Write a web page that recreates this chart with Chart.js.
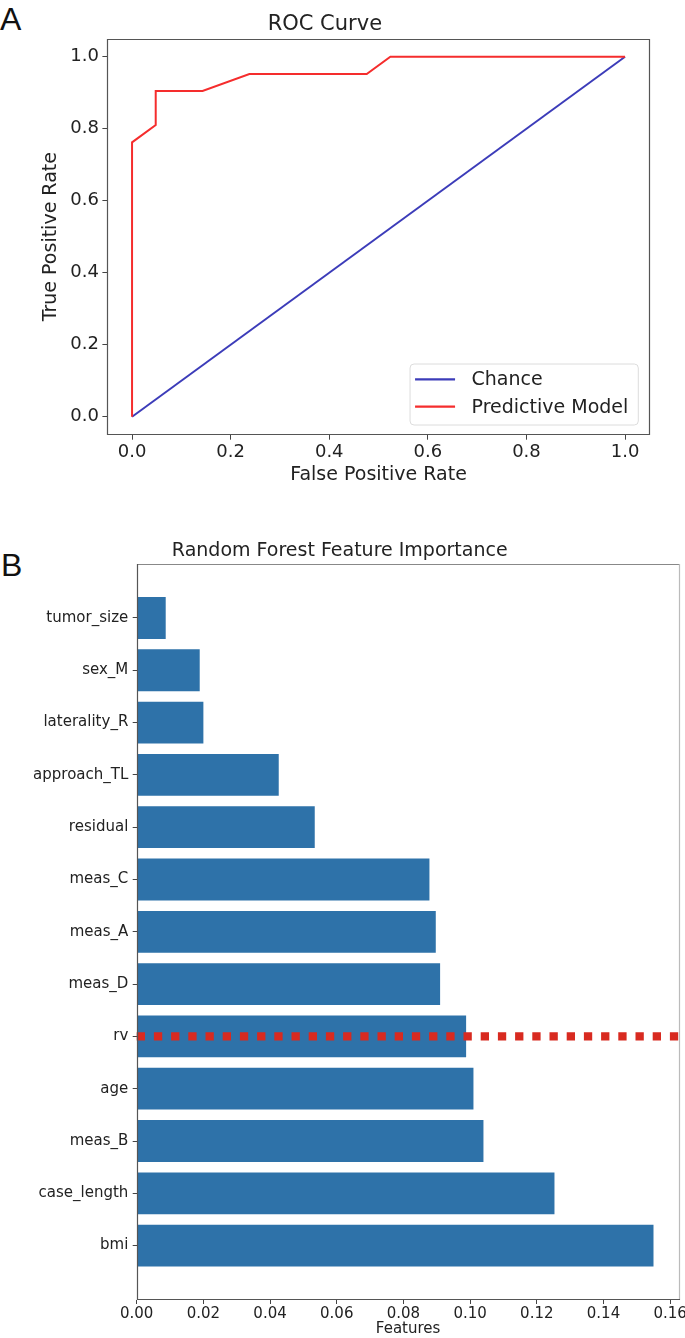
<!DOCTYPE html>
<html>
<head>
<meta charset="utf-8">
<script src="https://cdn.jsdelivr.net/npm/chart.js@4.4.1/dist/chart.umd.min.js"></script>
<style>
  html, body { margin: 0; padding: 0; background: #ffffff; overflow: hidden; width: 685px; height: 1338px; }
  .panel { position: absolute; font-family: "Liberation Sans", Arial, sans-serif; font-size: 32px; line-height: 1; color: #111; }
  #cA { position: absolute; left: 0; top: 0; }
  #cB { position: absolute; left: 0; top: 500px; }
</style>
</head>
<body>
<div class="panel" style="left:0px; top:3px;">A</div>
<div class="panel" style="left:1px; top:549px;">B</div>
<canvas id="cA" width="685" height="500"></canvas>
<canvas id="cB" width="685" height="838"></canvas>
<script>
// ---------------- data ----------------
const rocTicks = [0.0, 0.2, 0.4, 0.6, 0.8, 1.0];
const chanceFpr = [0.0, 1.0];
const chanceTpr = [0.0, 1.0];
const modelFpr = [0.0, 0.0, 0.048, 0.048, 0.143, 0.238, 0.476, 0.524, 1.0];
const modelTpr = [0.0, 0.762, 0.810, 0.905, 0.905, 0.952, 0.952, 1.0, 1.0];

const features = ['tumor_size', 'sex_M', 'laterality_R', 'approach_TL', 'residual', 'meas_C',
                  'meas_A', 'meas_D', 'rv', 'age', 'meas_B', 'case_length', 'bmi'];
const importances = [0.0087, 0.0189, 0.0200, 0.0426, 0.0534, 0.0878,
                     0.0897, 0.0910, 0.0988, 0.1010, 0.1040, 0.1253, 0.1550];
const importanceTicks = [0.00, 0.02, 0.04, 0.06, 0.08, 0.10, 0.12, 0.14, 0.16];
const cutoffFeature = 'rv';

// ---------------- helpers ----------------
const FONT = '"DejaVu Sans", Verdana, sans-serif';
const TXT = '#222222';

const framePlugin = {
  id: 'frame',
  afterDraw(chart, args, opts) {
    const {ctx, chartArea: a} = chart;
    const L = Math.round(a.left) + 0.5, R = Math.round(a.right) - 0.5;
    const T = Math.round(a.top) + 0.5, B = Math.round(a.bottom) - 0.5;
    const c = opts.colors;
    ctx.save();
    ctx.lineWidth = opts.width || 1;
    const seg = (x1, y1, x2, y2, col) => { ctx.strokeStyle = col; ctx.beginPath(); ctx.moveTo(x1, y1); ctx.lineTo(x2, y2); ctx.stroke(); };
    seg(L - 0.5, T, R + 0.5, T, c.top);
    seg(R, T - 0.5, R, B + 0.5, c.right);
    seg(L - 0.5, B, R + 0.5, B, c.bottom);
    seg(L, T - 0.5, L, B + 0.5, c.left);
    ctx.restore();
  }
};

const rocLegendPlugin = {
  id: 'rocLegend',
  afterDraw(chart, args, opts) {
    if (!opts || !opts.display) return;
    const {ctx, chartArea: a} = chart;
    const items = chart.data.datasets;
    ctx.save();
    ctx.font = '19px ' + FONT;
    const textW = Math.max(...items.map(d => ctx.measureText(d.label).width));
    const padL = 5, lineLen = 40, gap = 16.5, padR = 10, rowH = 27.4, padT = 15.3;
    const w = padL + lineLen + gap + textW + padR;
    const h = 61;
    const x0 = a.right - 11.4 - w, y0 = a.bottom - 9.7 - h;
    ctx.beginPath();
    ctx.roundRect(x0, y0, w, h, 4);
    ctx.fillStyle = 'rgba(255,255,255,0.85)';
    ctx.fill();
    ctx.strokeStyle = '#dcdcdc';
    ctx.lineWidth = 1;
    ctx.stroke();
    items.forEach((d, i) => {
      const y = y0 + padT + i * rowH;
      ctx.strokeStyle = d.borderColor;
      ctx.lineWidth = 2.2;
      ctx.beginPath();
      ctx.moveTo(x0 + padL, y);
      ctx.lineTo(x0 + padL + lineLen, y);
      ctx.stroke();
      ctx.fillStyle = TXT;
      ctx.textBaseline = 'middle';
      ctx.textAlign = 'left';
      ctx.fillText(d.label, x0 + padL + lineLen + gap, y + 1);
    });
    ctx.restore();
  }
};

const zeroPad = s => { s.paddingLeft = 0; s.paddingRight = 0; s.paddingTop = 0; s.paddingBottom = 0; };

// ---------------- Chart A: ROC ----------------
new Chart(document.getElementById('cA'), {
  type: 'scatter',
  data: {
    datasets: [
      {
        label: 'Chance',
        data: chanceFpr.map((x, i) => ({x: x, y: chanceTpr[i]})),
        showLine: true, borderColor: 'rgb(60,60,185)', borderWidth: 2, pointRadius: 0, order: 1
      },
      {
        label: 'Predictive Model',
        data: modelFpr.map((x, i) => ({x: x, y: modelTpr[i]})),
        showLine: true, borderColor: 'rgb(245,45,45)', borderWidth: 2, pointRadius: 0, order: 0
      }
    ]
  },
  options: {
    responsive: false, animation: false, devicePixelRatio: 1,
    layout: { padding: { left: 0, right: 35.3, top: 0, bottom: 0 } },
    plugins: {
      legend: { display: false },
      tooltip: { enabled: false },
      title: {
        display: true, text: 'ROC Curve', color: TXT,
        font: { family: FONT, size: 21, weight: 'normal', lineHeight: 1.2 },
        padding: { top: 11.5, bottom: 2 }
      },
      frame: { width: 1.2, colors: { top: '#555', right: '#555', bottom: '#555', left: '#555' } },
      rocLegend: { display: true }
    },
    scales: {
      x: {
        type: 'linear', min: -0.05, max: 1.05,
        afterBuildTicks: s => { s.ticks = rocTicks.map(v => ({value: v})); },
        afterFit: s => { s.height = 500 - 434.7; zeroPad(s); },
        ticks: { callback: v => Number(v).toFixed(1), color: TXT, font: { family: FONT, size: 18 }, padding: 2, maxRotation: 0, autoSkip: false },
        grid: { drawOnChartArea: false, drawTicks: true, tickLength: 5, tickColor: '#444' },
        border: { display: false },
        title: { display: true, text: 'False Positive Rate', color: TXT, font: { family: FONT, size: 19, lineHeight: 1.2 }, padding: { top: 0, bottom: 13.5 } }
      },
      y: {
        type: 'linear', min: -0.05, max: 1.05,
        afterBuildTicks: s => { s.ticks = rocTicks.map(v => ({value: v})); },
        afterFit: s => { s.width = 107.4; zeroPad(s); },
        ticks: { callback: v => Number(v).toFixed(1), color: TXT, font: { family: FONT, size: 18 }, padding: 3.4, autoSkip: false },
        grid: { drawOnChartArea: false, drawTicks: true, tickLength: 5, tickColor: '#444' },
        border: { display: false },
        title: { display: true, text: 'True Positive Rate', color: TXT, font: { family: FONT, size: 19, lineHeight: 1.2 }, padding: { top: 39.6, bottom: 0 } }
      }
    }
  },
  plugins: [framePlugin, rocLegendPlugin]
});

// ---------------- Chart B: feature importance ----------------
const xMaxB = 0.1628;
const cutoffIndex = features.indexOf(cutoffFeature);

new Chart(document.getElementById('cB'), {
  type: 'bar',
  data: {
    datasets: [
      {
        type: 'line',
        label: 'cutoff',
        data: [{x: 0, y: cutoffIndex}, {x: xMaxB, y: cutoffIndex}],
        borderColor: '#d82a20', borderWidth: 8.3, borderDash: [8.3, 8.9], borderCapStyle: 'butt',
        pointRadius: 0, fill: false, order: 0, clip: false
      },
      {
        label: 'importance',
        data: importances.map((v, i) => ({x: v, y: i})),
        backgroundColor: '#2e72a9', borderWidth: 0,
        barPercentage: 0.8, categoryPercentage: 1.0, order: 1
      }
    ]
  },
  options: {
    indexAxis: 'y',
    responsive: false, animation: false, devicePixelRatio: 1,
    layout: { padding: { left: 0, right: 5.5, top: 0, bottom: 0 } },
    plugins: {
      legend: { display: false },
      tooltip: { enabled: false },
      title: {
        display: true, text: 'Random Forest Feature Importance', color: TXT,
        font: { family: FONT, size: 19, weight: 'normal', lineHeight: 1.2 },
        padding: { top: 40.1, bottom: 0.7 }
      },
      frame: { width: 1.2, colors: { top: '#888', right: '#bbb', bottom: '#555', left: '#555' } }
    },
    scales: {
      x: {
        type: 'linear', min: 0, max: xMaxB, offset: false,
        afterBuildTicks: s => { s.ticks = importanceTicks.map(v => ({value: v})); },
        afterFit: s => { s.height = 38; zeroPad(s); },
        ticks: { callback: v => Number(v).toFixed(2), color: TXT, font: { family: FONT, size: 15 }, padding: 1, maxRotation: 0, autoSkip: false },
        grid: { offset: false, drawOnChartArea: false, drawTicks: true, tickLength: 4, tickColor: '#444' },
        border: { display: false },
        title: { display: true, text: 'Features', color: TXT, font: { family: FONT, size: 15, lineHeight: 1.2 }, padding: { top: 0, bottom: 0 } }
      },
      y: {
        type: 'linear', min: -1.04, max: 13.04, reverse: true, offset: false,
        afterBuildTicks: s => { s.ticks = features.map((f, i) => ({value: i})); },
        afterFit: s => { s.width = 136.7; zeroPad(s); },
        ticks: { callback: v => features[v], color: TXT, font: { family: FONT, size: 15 }, padding: 4.4, autoSkip: false },
        grid: { offset: false, drawOnChartArea: false, drawTicks: true, tickLength: 4, tickColor: '#444' },
        border: { display: false }
      }
    }
  },
  plugins: [framePlugin]
});
</script>
</body>
</html>
